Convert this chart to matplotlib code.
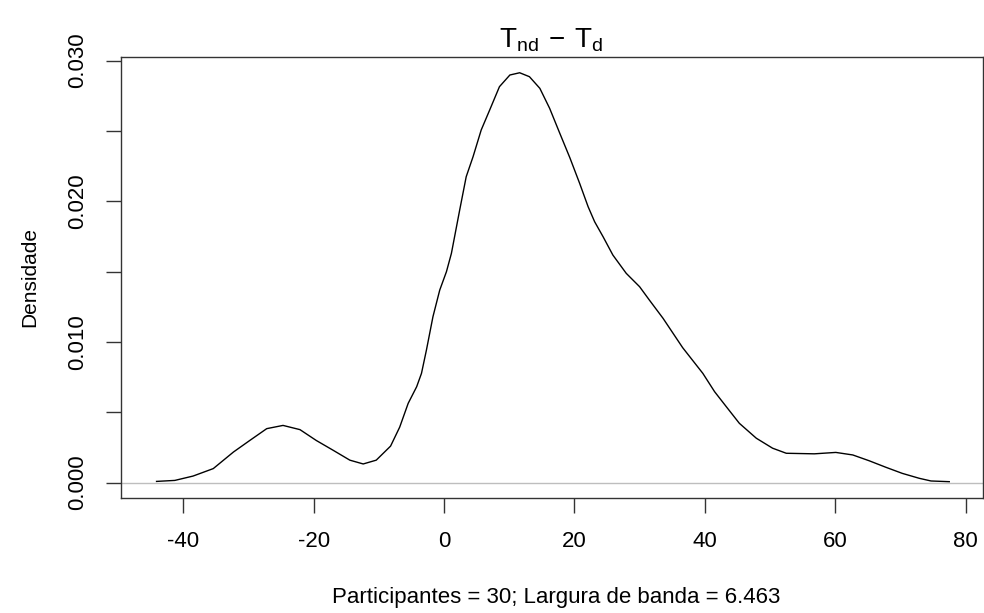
import matplotlib
matplotlib.use("Agg")
import matplotlib.pyplot as plt

plt.rcParams["font.family"] = ["Liberation Sans", "DejaVu Sans"]
plt.rcParams["mathtext.fontset"] = "custom"
plt.rcParams["mathtext.rm"] = "Liberation Sans"

# kernel density estimate of T_nd - T_d, sampled along the curve
dens_x = [-44.1, -41.3, -38.5, -35.4, -32.3, -29.8, -27.2, -24.7, -22.1, -19.6,
          -17.0, -14.45, -12.4, -10.4, -8.2, -6.8, -5.5, -4.2, -3.46, -2.7,
          -1.7, -0.66, 0.37, 1.13, 2.4, 3.4, 4.45, 5.7, 7.0, 8.5,
          10.1, 11.6, 13.1, 14.7, 16.2, 17.7, 19.3, 20.8, 22.1, 23.1,
          24.4, 25.9, 27.95, 30.0, 31.5, 33.6, 36.6, 39.7, 41.5, 43.3,
          45.3, 47.9, 50.4, 52.5, 56.8, 60.1, 62.7, 65.2, 67.8, 70.3,
          72.9, 74.7, 77.5]
dens_y = [0.00009, 0.00016, 0.00047, 0.0010, 0.00218, 0.0030, 0.00384, 0.00407, 0.00377, 0.0030,
          0.0023, 0.0016, 0.00133, 0.0016, 0.0026, 0.00395, 0.00564, 0.00682, 0.00777, 0.00943,
          0.0118, 0.01369, 0.0150, 0.0163, 0.01938, 0.02175, 0.02317, 0.02507, 0.02649, 0.02815,
          0.02898, 0.02914, 0.02886, 0.02803, 0.02661, 0.0249, 0.0231, 0.02128, 0.01962, 0.01855,
          0.01748, 0.01618, 0.01488, 0.01393, 0.01298, 0.01168, 0.0096, 0.00777, 0.00647, 0.0054,
          0.00422, 0.00316, 0.00245, 0.00209, 0.00205, 0.00215, 0.00197, 0.00156, 0.00109, 0.00066,
          0.00031, 0.00012, 0.00007]

x_ticks = [-40, -20, 0, 20, 40, 60, 80]
y_ticks = [0.000, 0.005, 0.010, 0.015, 0.020, 0.025, 0.030]
y_labels = ["0.000", "", "0.010", "", "0.020", "", "0.030"]

W, H = 984, 613
fig = plt.figure(figsize=(W / 100, H / 100), dpi=100)
left, right, top, bottom = 120.7, 982.5, 57.0, 498.0
ax = fig.add_axes([left / W, 1 - bottom / H, (right - left) / W, (bottom - top) / H])

ax.axhline(0, color="#bebebe", lw=1.0, zorder=1)
ax.plot(dens_x, dens_y, color="black", lw=1.0, zorder=2, solid_joinstyle="round")

ax.set_xlim(-49.6, 82.6)
ax.set_ylim(-0.00109, 0.03026)
ax.set_xticks(x_ticks)
ax.set_xticklabels([str(v) for v in x_ticks])
ax.set_yticks(y_ticks)
ax.set_yticklabels(y_labels, rotation=90, va="center")

for s in ax.spines.values():
    s.set_linewidth(1.0)
    s.set_color("#333333")
ax.tick_params(axis="both", length=10.5, width=1.0, labelsize=16, color="#333333")
ax.tick_params(axis="x", pad=13)
ax.tick_params(axis="y", pad=13)

fig.text(551 / W, 1 - 40 / H, r"$\mathregular{T_{nd}\,-\,T_d}$", ha="center", va="center", fontsize=20)
fig.text(556 / W, 1 - 597 / H, "Participantes = 30; Largura de banda = 6.463",
         ha="center", va="center", fontsize=16)
fig.text(30 / W, 1 - 277 / H, "Densidade", rotation=90, ha="center", va="center", fontsize=15)

fig.savefig("out.png", dpi=100)
